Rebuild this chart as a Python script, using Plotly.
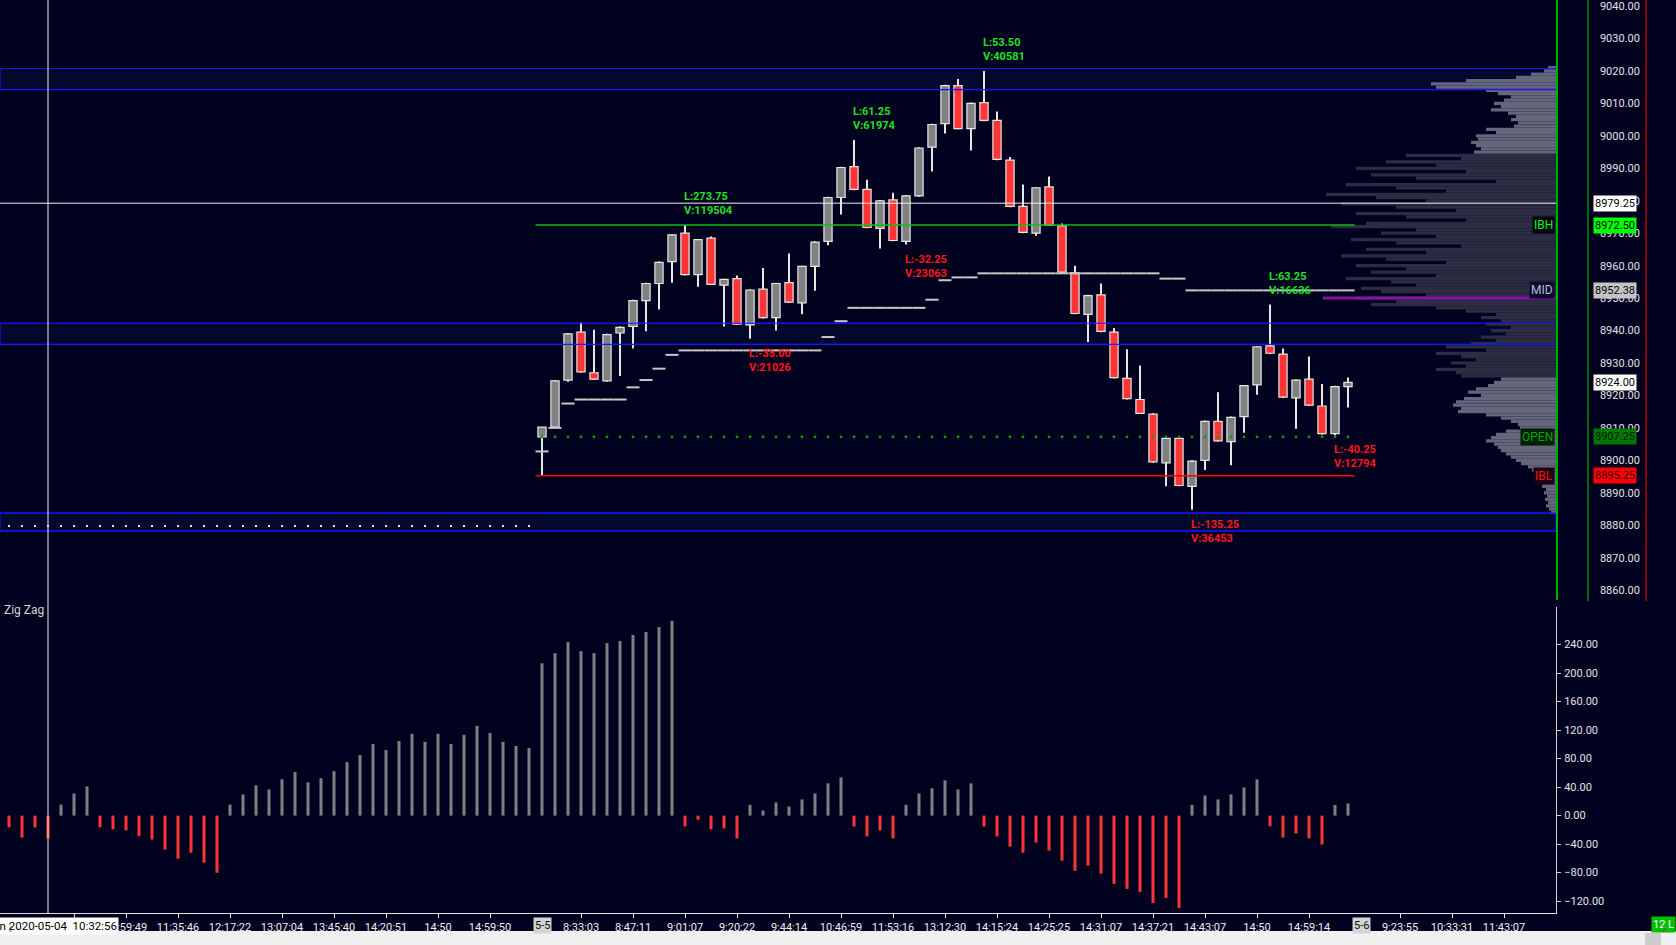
import plotly.graph_objects as go

# plot area in pixels (right price scale and time scale sit outside it)
W, H = 1676, 945
PLOT_W, PLOT_H = 1556, 913
BG = "#00001f"

# ---------------- data ----------------
# zig zag histogram, one value per bar (bars 0-40 = 5-4 session, 41-103 = 5-5)
zigzag = [-16.5, -30.75, -16.5, -32.0, 15.5, 31.0, 41.0, -16.5, -19.25, -20.75,
          -29.0, -33.5, -47.75, -60.5, -52.0, -66.0, -80.25, 15.5, 29.75, 42.5,
          36.75, 51.0, 61.0, 46.75, 52.5, 62.25, 75.0, 85.0, 100.5, 92.0,
          104.75, 114.75, 103.5, 114.75, 100.5, 113.25, 126.0, 116.0, 103.5, 97.75,
          95.0, 213.75, 228.0, 243.5, 230.75, 228.0, 242.0, 245.0, 253.5, 257.75,
          264.75, 273.25, -15.25, -5.75, -19.25, -18.0, -32.0, 15.0, 7.0, 18.5,
          12.75, 22.75, 31.0, 45.25, 53.75, -15.25, -29.25, -20.75, -32.0, 15.0,
          31.0, 38.25, 49.5, 36.75, 45.25, -15.25, -29.25, -43.5, -52.0, -37.75,
          -49.0, -63.25, -77.5, -70.25, -81.5, -95.75, -103.0, -107.0, -122.75, -115.5,
          -129.75, 15.0, 28.25, 22.75, 29.75, 39.5, 51.0, -15.0, -30.75, -25.0,
          -32.0, -40.5, 15.0, 17.0]

first_candle = 41
opens = [8907.25, 8910.25, 8924.75, 8939.5, 8927.0, 8924.5, 8939.25, 8941.25, 8949.25, 8954.5,
         8961.25, 8970.0, 8957.25, 8968.5, 8954.0, 8956.0, 8941.75, 8952.75, 8944.0, 8954.75,
         8948.5, 8959.75, 8967.5, 8981.0, 8990.5, 8983.5, 8971.5, 8980.25, 8967.5, 8981.5,
         8996.5, 9003.75, 9015.5, 9002.25, 9010.25, 9004.75, 8992.5, 8978.25, 8970.0, 8984.25,
         8972.25, 8957.75, 8945.0, 8951.0, 8939.5, 8925.25, 8918.75, 8914.25, 8899.25, 8906.75,
         8892.0, 8900.0, 8912.0, 8905.75, 8913.5, 8923.25, 8935.25, 8932.75, 8919.25, 8925.0,
         8916.75, 8908.25, 8922.75]
highs = [8910.25, 8924.75, 8939.25, 8942.5, 8940.25, 8939.0, 8941.25, 8949.5, 8954.75, 8961.25,
         8969.75, 8972.5, 8968.25, 8969.0, 8956.0, 8957.0, 8952.75, 8959.25, 8954.75, 8963.75,
         8960.0, 8967.5, 8981.25, 8990.5, 8998.75, 8986.5, 8980.25, 8982.5, 8981.75, 8996.5,
         9003.75, 9015.75, 9017.5, 9010.25, 9020.0, 9007.5, 8993.5, 8985.0, 8984.25, 8987.5,
         8973.0, 8960.0, 8951.0, 8954.5, 8940.75, 8934.25, 8929.25, 8914.5, 8907.0, 8907.0,
         8900.0, 8912.25, 8921.0, 8913.5, 8923.25, 8935.25, 8948.0, 8934.5, 8925.0, 8932.0,
         8923.5, 8923.0, 8925.5]
lows = [8895.25, 8910.0, 8924.25, 8927.0, 8924.75, 8924.25, 8926.0, 8934.5, 8939.75, 8946.5,
        8954.75, 8957.0, 8953.5, 8954.0, 8941.25, 8941.75, 8937.5, 8943.75, 8940.0, 8948.5,
        8945.0, 8952.25, 8966.25, 8975.75, 8983.25, 8971.5, 8965.25, 8967.5, 8966.5, 8981.25,
        8989.0, 9000.75, 9002.0, 8995.5, 9004.5, 8992.5, 8978.0, 8970.0, 8969.25, 8972.25,
        8957.75, 8945.0, 8936.5, 8939.5, 8925.25, 8918.75, 8914.25, 8899.25, 8892.0, 8892.0,
        8884.75, 8897.0, 8905.75, 8898.5, 8908.5, 8920.25, 8932.75, 8919.25, 8909.75, 8916.75,
        8908.0, 8907.75, 8916.25]
closes = [8910.25, 8924.5, 8939.0, 8927.25, 8925.0, 8938.75, 8941.0, 8949.25, 8954.5, 8961.0,
          8969.5, 8957.25, 8968.0, 8954.25, 8955.75, 8942.0, 8952.5, 8944.0, 8954.5, 8948.75,
          8959.75, 8967.25, 8981.0, 8990.25, 8983.5, 8971.75, 8980.0, 8967.75, 8981.5, 8996.25,
          9003.5, 9015.5, 9002.25, 9010.0, 9004.75, 8992.75, 8978.25, 8970.25, 8984.0, 8972.5,
          8958.0, 8945.25, 8950.75, 8939.75, 8925.5, 8919.0, 8914.5, 8899.5, 8906.75, 8892.25,
          8899.75, 8912.0, 8906.0, 8913.25, 8923.0, 8935.0, 8933.0, 8919.5, 8924.75, 8917.0,
          8908.25, 8922.75, 8924.0]

# developing mid of the session range, per 5-5 bar
mid_values = [8902.75, 8910.0, 8917.5, 8918.75, 8918.75, 8918.75, 8918.75, 8922.5, 8924.75, 8928.25,
              8932.5, 8933.88, 8933.88, 8933.88, 8933.88, 8933.88, 8933.88, 8933.88, 8933.88, 8933.88,
              8933.88, 8933.88, 8938.0, 8942.88, 8947.0, 8947.0, 8947.0, 8947.0, 8947.0, 8947.0,
              8949.5, 8955.5, 8956.38, 8956.38, 8957.63, 8957.63, 8957.63, 8957.63, 8957.63, 8957.63,
              8957.63, 8957.63, 8957.63, 8957.63, 8957.63, 8957.63, 8957.63, 8957.63, 8956.0, 8956.0,
              8952.38, 8952.38, 8952.38, 8952.38, 8952.38, 8952.38, 8952.38, 8952.38, 8952.38, 8952.38,
              8952.38, 8952.38, 8952.38]

prev_session_bars = 41
prev_level = 8879.75
open_price = 8907.25
ib_high = 8972.50
ib_low = 8895.25
mid_price = 8952.38
last_price = 8924.00
cross_price = 8979.25
cross_bar = 3
poc_price = 8950.0

zone_lows = [9014.25, 8935.75, 8878.25]
zone_highs = [9020.75, 8942.25, 8883.75]

# volume profile, one value per point from 9021 down to 8884
profile_prices = list(range(9021, 8883, -1))
profile_volume = [8, 12, 25, 40, 90, 125, 120, 70, 58, 45, 52, 62, 55, 65, 48, 40, 45, 38, 42, 70,
                  60, 80, 78, 85, 80, 75, 82,
                  150, 95, 170, 120, 200, 90, 185, 140, 60, 210, 160, 110, 230, 180, 130, 215, 160, 100,
                  200, 150, 90, 190, 225, 140, 175, 120, 205, 160, 95, 190, 130, 215, 170, 110, 200, 150,
                  185, 120, 210, 165, 140, 195, 175, 130, 200, 160, 185, 120, 90, 60, 75, 55, 70, 45,
                  65, 50, 75, 60, 85, 110, 70, 120, 95, 80, 105, 90, 120, 100, 95,
                  55, 62, 68, 80, 88, 75, 92, 100, 103, 95, 98, 70, 55, 45, 38, 36, 50, 60, 65, 70,
                  62, 58, 55, 50, 45, 40, 35, 28, 24, 22, 18, 15, 12, 14, 10, 12, 9, 11, 8, 10, 7, 5]
dark_band = (8925.5, 8994.5)

swing_bars = [52, 57, 65, 69, 75, 91, 97, 102]
swing_up = [True, False, True, False, True, False, True, False]
swing_text = ["L:273.75<br>V:119504", "L:-35.00<br>V:21026", "L:61.25<br>V:61974",
              "L:-32.25<br>V:23063", "L:53.50<br>V:40581", "L:-135.25<br>V:36453",
              "L:63.25<br>V:16636", "L:-40.25<br>V:12794"]

time_bars = [5, 9, 13, 17, 21, 25, 29, 33, 37, 44, 48, 52, 56, 60, 64, 68, 72, 76, 80,
             84, 88, 92, 96, 100, 107, 111, 115]
time_labels = ["", "10:59:49", "11:35:46", "12:17:22", "13:07:04", "13:45:40", "14:20:51", "14:50",
               "14:59:50", "8:33:03", "8:47:11", "9:01:07", "9:20:22", "9:44:14", "10:46:59",
               "11:53:16", "13:12:30", "14:15:24", "14:25:25", "14:31:07", "14:37:21", "14:43:07",
               "14:50", "14:59:14", "9:23:55", "10:33:31", "11:43:07"]
day_bars = [41, 104]
day_labels = ["5-5", "5-6"]

# ---------------- geometry ----------------
BAR_PX = 13.0
x_range = [-9 / BAR_PX, (PLOT_W - 9) / BAR_PX]
price_px = 3.245                     # pixels per point
price_top = 9030 + 38.5 / price_px
price_bottom = 9030 - (600 - 38.5) / price_px
price_dom0 = (PLOT_H - 600) / PLOT_H
hist_px = 0.7125
hist_top_px, hist_zero_px = 607, 815.6
hist_dom1 = (PLOT_H - hist_top_px) / PLOT_H
hist_range = [-(PLOT_H - hist_zero_px) / hist_px, (hist_zero_px - hist_top_px) / hist_px]

FONT = "Roboto"
candle_x = [first_candle + i for i in range(len(opens))]

fig = go.Figure()

# volume profile on its own (hidden) axis, growing from the right edge
prof_colors = ["#2c2c42" if dark_band[0] < p < dark_band[1] else "#65657c" for p in profile_prices]
fig.add_trace(go.Bar(x=profile_volume, y=profile_prices, orientation="h", width=1,
                     marker=dict(color=prof_colors, line_width=0),
                     xaxis="x", yaxis="y", hoverinfo="skip"))

# candles: wicks then bodies
fig.add_trace(go.Bar(x=candle_x, y=[h - l for h, l in zip(highs, lows)], base=lows,
                     width=1.2 / BAR_PX, marker=dict(color="#e6e6e6", line_width=0),
                     xaxis="x2", yaxis="y", hoverinfo="skip"))
body_base = [min(o, c) for o, c in zip(opens, closes)]
body_h = [abs(c - o) for o, c in zip(opens, closes)]
body_col = ["#808080" if c >= o else "#ff3535" for o, c in zip(opens, closes)]
fig.add_trace(go.Bar(x=candle_x, y=body_h, base=body_base, width=8.2 / BAR_PX,
                     marker=dict(color=body_col, line=dict(color="#e6e6e6", width=1.2)),
                     xaxis="x2", yaxis="y", hoverinfo="skip"))

# developing mid, drawn bar by bar
seg_x, seg_y = [], []
for b, v in zip(candle_x, mid_values):
    seg_x += [b - 0.5, b + 0.5, None]
    seg_y += [v, v, None]
fig.add_trace(go.Scatter(x=seg_x, y=seg_y, mode="lines", line=dict(color="#c8c8c8", width=2),
                         xaxis="x2", yaxis="y", hoverinfo="skip"))

# open level dots and previous session dots
fig.add_trace(go.Scatter(x=candle_x, y=[open_price] * len(candle_x), mode="markers",
                         marker=dict(symbol="square", size=2.5, color="#00a000"),
                         xaxis="x2", yaxis="y", hoverinfo="skip"))
fig.add_trace(go.Scatter(x=list(range(prev_session_bars)), y=[prev_level] * prev_session_bars,
                         mode="markers", marker=dict(symbol="square", size=2, color="#e0e0e0"),
                         xaxis="x2", yaxis="y", hoverinfo="skip"))

# zig zag histogram
zz_col = ["#808080" if v >= 0 else "#ff3535" for v in zigzag]
fig.add_trace(go.Bar(x=list(range(len(zigzag))), y=zigzag, width=3 / BAR_PX,
                     marker=dict(color=zz_col, line_width=0),
                     xaxis="x3", yaxis="y2", hoverinfo="skip"))

# ---------------- shapes ----------------
shapes = []
for lo, hi in zip(zone_lows, zone_highs):
    shapes.append(dict(type="rect", xref="paper", yref="y", x0=0, x1=1, y0=lo, y1=hi,
                       fillcolor="#03082c", line=dict(color="#1515ff", width=1), layer="below"))
    for v in (lo, hi):
        shapes.append(dict(type="line", xref="paper", yref="y", x0=0, x1=1, y0=v, y1=v,
                           line=dict(color="#1515ff", width=1.2), layer="above"))
shapes.append(dict(type="line", xref="x2", yref="y", x0=first_candle - 0.5, x1=candle_x[-1] + 0.5,
                   y0=ib_high, y1=ib_high, line=dict(color="#10c010", width=1.5)))
shapes.append(dict(type="line", xref="x2", yref="y", x0=first_candle - 0.5, x1=candle_x[-1] + 0.5,
                   y0=ib_low, y1=ib_low, line=dict(color="#ff0000", width=1.5)))
shapes.append(dict(type="line", xref="x2", yref="y", x0=(1323 - 9) / BAR_PX, x1=x_range[1],
                   y0=poc_price, y1=poc_price, line=dict(color="#8a10a8", width=3)))
shapes.append(dict(type="line", xref="paper", yref="y", x0=0, x1=1, y0=cross_price, y1=cross_price,
                   line=dict(color="#f0f0f0", width=1)))
shapes.append(dict(type="line", xref="x3", yref="paper", x0=cross_bar, x1=cross_bar, y0=0, y1=1,
                   line=dict(color="#f0f0f0", width=1)))
# scale separators on the right
for px_x, col in ((1588, "#00b000"), (1646, "#e00000")):
    shapes.append(dict(type="line", xref="paper", yref="paper", x0=px_x / PLOT_W, x1=px_x / PLOT_W,
                       y0=(PLOT_H - 601) / PLOT_H, y1=1, line=dict(color=col, width=1.2)))
# bottom scroll strip
shapes.append(dict(type="rect", xref="paper", yref="paper", x0=0, x1=W / PLOT_W,
                   y0=(PLOT_H - H) / PLOT_H, y1=(PLOT_H - 931) / PLOT_H,
                   fillcolor="#f0f0f0", line_width=0))
shapes.append(dict(type="rect", xref="paper", yref="paper", x0=1645 / PLOT_W, x1=1661 / PLOT_W,
                   y0=(PLOT_H - H) / PLOT_H, y1=(PLOT_H - 933) / PLOT_H,
                   fillcolor="#cdcdcd", line_width=0))

# ---------------- annotations ----------------
ann = []
for b, up, t in zip(swing_bars, swing_up, swing_text):
    k = b - first_candle
    ann.append(dict(x=b, y=highs[k] if up else lows[k], xref="x2", yref="y", text=t,
                    showarrow=False, xanchor="left", yanchor="bottom" if up else "top",
                    yshift=6 if up else -6, xshift=-3, align="left",
                    font=dict(family=FONT, size=11, color="#22e022" if up else "#ff1818",
                              weight="bold")))

# level tags inside plot
for txt, v, fc, bg in (("IBH", ib_high, "#00ff00", "#000010"), ("MID", mid_price, "#b4bcd8", "#0b0b2c"),
                       ("OPEN", open_price, "#00a800", "#002000"), ("IBL", ib_low, "#ff1010", "#1c0012")):
    ann.append(dict(x=1, y=v, xref="paper", yref="y", text=txt, showarrow=False, xanchor="right",
                    xshift=-1, bgcolor=bg, borderpad=1, font=dict(family=FONT, size=12, color=fc)))

# price tags on the scale
for v, bg, fc in ((cross_price, "#ffffff", "#000000"), (ib_high, "#00ff00", "#000000"),
                  (mid_price, "#c4c4c4", "#000000"), (last_price, "#ffffff", "#000000"),
                  (open_price, "#007800", "#001800"), (ib_low, "#ff0000", "#300000")):
    ann.append(dict(x=1, y=v, xref="paper", yref="y", text=f"{v:.2f}", showarrow=False,
                    xanchor="left", xshift=37, bgcolor=bg, borderpad=1,
                    font=dict(family=FONT, size=11, color=fc)))

ann.append(dict(x=0, y=hist_dom1, xref="paper", yref="paper", text="Zig Zag", showarrow=False,
                xanchor="left", yanchor="middle", xshift=2, yshift=-3,
                font=dict(family=FONT, size=12, color="#d4d4d4")))

# time scale boxes
ann.append(dict(x=cross_bar, y=0, xref="x3", yref="paper", text="Mon 2020-05-04 \u00a010:32:56",
                showarrow=False, yanchor="top", yshift=-4, xshift=2, bgcolor="#ffffff", borderpad=1,
                font=dict(family=FONT, size=11.5, color="#000000")))
for b, t in zip(day_bars, day_labels):
    ann.append(dict(x=b, y=0, xref="x3", yref="paper", text=t, showarrow=False, yanchor="top",
                    yshift=-4, bgcolor="#d4d4d4", borderpad=1,
                    font=dict(family=FONT, size=11, color="#101010")))
ann.append(dict(x=1651 / PLOT_W, y=0, xref="paper", yref="paper", text="12 L", showarrow=False,
                xanchor="left", yanchor="top", yshift=-3, bgcolor="#00c000", borderpad=1,
                font=dict(family=FONT, size=11, color="#ffffff")))
ann.append(dict(x=6 / PLOT_W, y=(PLOT_H - 938) / PLOT_H, xref="paper", yref="paper", text="‹",
                showarrow=False, font=dict(family=FONT, size=14, color="#606060")))
ann.append(dict(x=1668 / PLOT_W, y=(PLOT_H - 938) / PLOT_H, xref="paper", yref="paper", text="›",
                showarrow=False, font=dict(family=FONT, size=14, color="#606060")))

fig.update_layout(
    width=W, height=H,
    margin=dict(l=0, r=W - PLOT_W, t=0, b=H - PLOT_H),
    paper_bgcolor=BG, plot_bgcolor=BG,
    barmode="overlay", showlegend=False,
    shapes=shapes, annotations=ann,
    xaxis=dict(domain=[0, 1], range=[PLOT_W, 0], visible=False, anchor="y"),
    xaxis2=dict(overlaying="x", range=x_range, visible=False, anchor="y"),
    xaxis3=dict(domain=[0, 1], range=x_range, anchor="y2", tickvals=time_bars, ticktext=time_labels,
                ticks="outside", ticklen=4, tickcolor="#e0e0e0", showline=True, linecolor="#e0e0e0",
                linewidth=1, showgrid=False, zeroline=False,
                tickfont=dict(family=FONT, size=11, color="#f0f0f0")),
    yaxis=dict(domain=[price_dom0, 1], range=[price_bottom, price_top], side="right",
               tickvals=list(range(8860, 9050, 10)), tickformat=".2f", ticks="",
               ticklabelstandoff=40, ticklabeloverflow="allow", showline=True, linecolor="#00b000",
               linewidth=1.5, showgrid=False, zeroline=False,
               tickfont=dict(family=FONT, size=11, color="#e4e4e4")),
    yaxis2=dict(domain=[0, hist_dom1], range=hist_range, side="right",
                tickvals=list(range(-120, 241, 40)), tickformat=".2f", ticks="outside", ticklen=4,
                tickcolor="#d0d0d0", ticklabelstandoff=1, showline=True, linecolor="#d0d0d0",
                showgrid=False, zeroline=False,
                tickfont=dict(family=FONT, size=11, color="#e4e4e4")),
)

fig.write_html("out.html", config={"displayModeBar": False},
               post_script="document.body.style.margin='0';document.body.style.overflow='hidden';")
